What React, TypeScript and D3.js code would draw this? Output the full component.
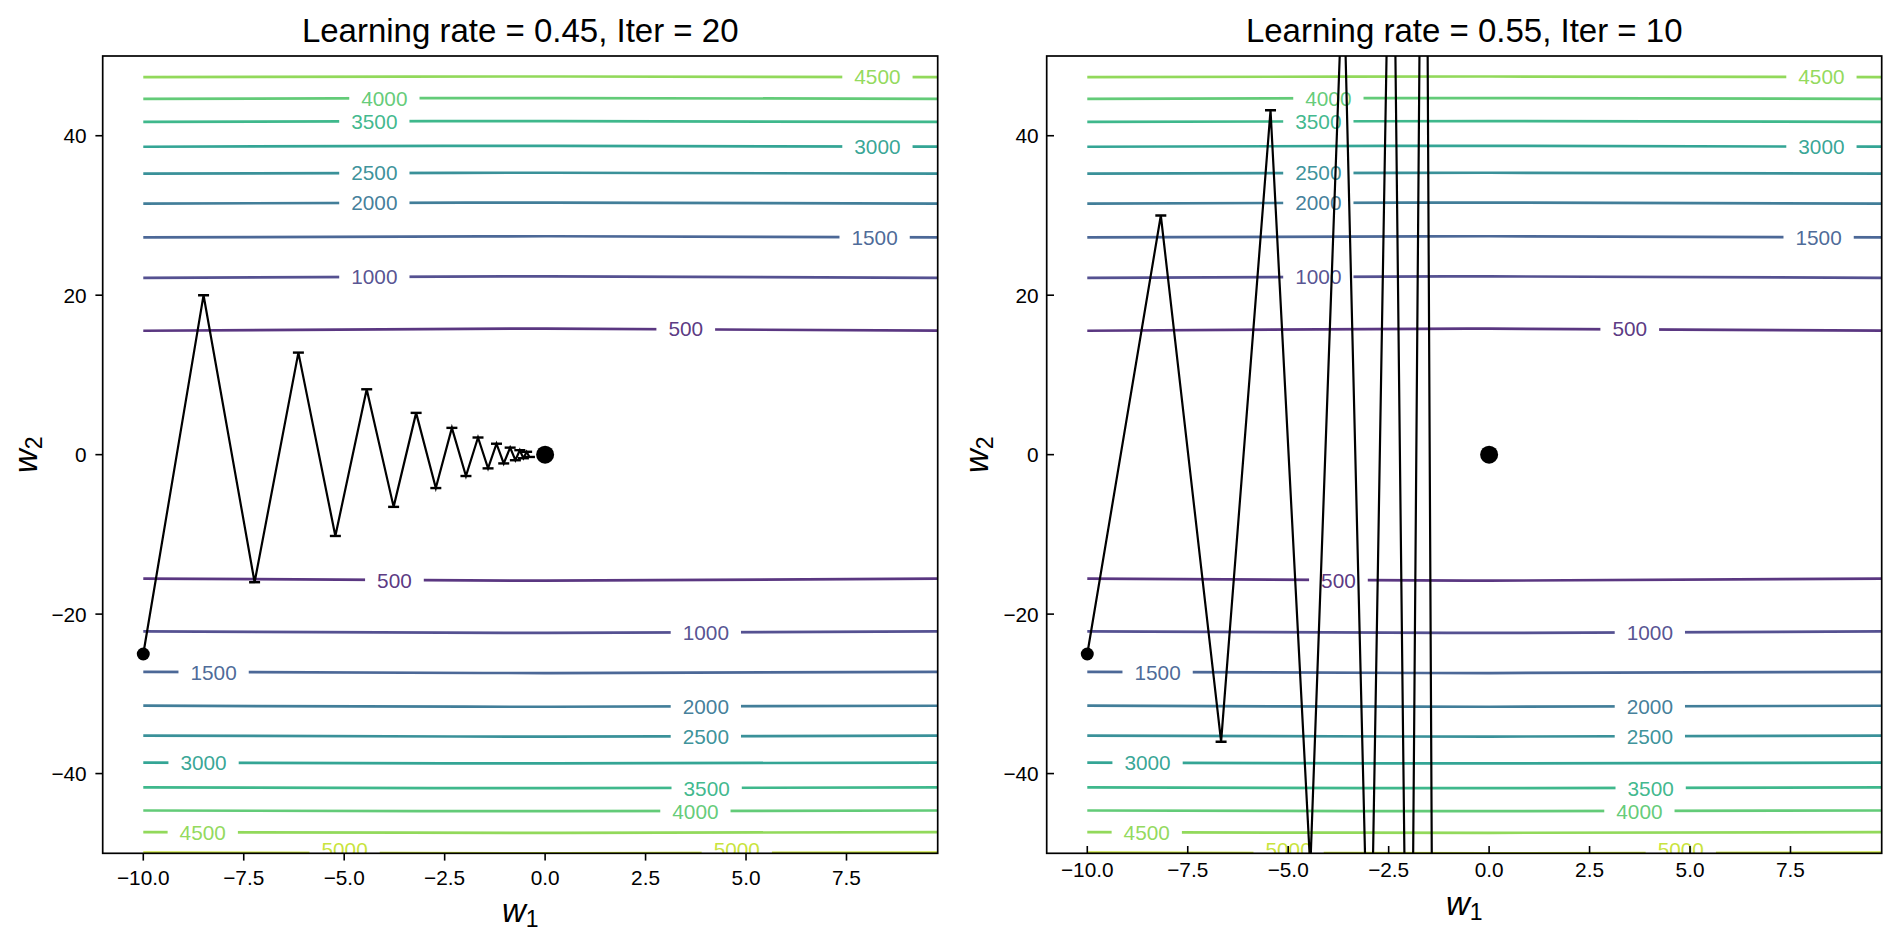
import React, { useEffect, useRef } from "react";
import * as d3 from "d3";

// ---- data ----
const panelTitles = ["Learning rate = 0.45, Iter = 20", "Learning rate = 0.55, Iter = 10"];

// gradient descent iterates (w1, w2)
const stepsLr045W1 = [-10, -8.5, -7.23, -6.14, -5.22, -4.44, -3.77, -3.21, -2.72, -2.32, -1.97, -1.67, -1.42, -1.21, -1.03, -0.87, -0.74, -0.63, -0.54, -0.46, -0.39];
const stepsLr045W2 = [-25, 20, -16, 12.8, -10.2, 8.2, -6.55, 5.24, -4.19, 3.36, -2.68, 2.15, -1.72, 1.37, -1.1, 0.88, -0.7, 0.56, -0.45, 0.36, -0.29];
const stepsLr055W1 = [-10, -8.17, -6.67, -5.44, -4.45, -3.63, -2.97, -2.42, -1.98, -1.61, -1.32];
const stepsLr055W2 = [-25, 30, -36, 43.2, -51.8, 62.2, -74.6, 89.6, -107.5, 129, -154.8];

const optimum: [number, number] = [0, 0];

// contour lines: |w2| of each level at w1 = -10, 0, 10
const contourLevels = [500, 1000, 1500, 2000, 2500, 3000, 3500, 4000, 4500, 5000];
const contourW1 = [-10, 0, 10];
const contourW2Edge = [15.54, 22.17, 27.24, 31.49, 35.24, 38.62, 41.73, 44.63, 47.35, 49.92];
const contourW2Zero = [15.81, 22.36, 27.39, 31.62, 35.36, 38.73, 41.83, 44.72, 47.43, 50.0];
const upperLevels = [500, 1000, 1500, 2000, 2500, 3000, 3500, 4000, 4500];
const lowerLevels = [500, 1000, 1500, 2000, 2500, 3000, 3500, 4000, 4500, 5000];

// inline contour labels: [level, w1]
const upperLabels = [[500, 3.5], [1000, -4.25], [1500, 8.2], [2000, -4.25], [2500, -4.25], [3000, 8.27], [3500, -4.25], [4000, -4.0], [4500, 8.27]];
const lowerLabels = [[500, -3.75], [1000, 4.0], [1500, -8.25], [2000, 4.0], [2500, 4.0], [3000, -8.5], [3500, 4.02], [4000, 3.74], [4500, -8.52], [5000, -4.99], [5000, 4.77]];

const xTicks = [-10, -7.5, -5, -2.5, 0, 2.5, 5, 7.5];
const yTicks = [-40, -20, 0, 20, 40];
const w1Domain = [-11.01, 9.77];
const w2Domain = [-50, 50];

// ---- layout ----
const W = 1894, H = 934;
const FONT = "'Liberation Sans', Arial, Helvetica, sans-serif";
const panelLeft = [102.7, 1046.7];
const plotW = 835, plotTop = 56, plotBottom = 853.3;
const tickLen = 7.3;

function drawPanel(svg: any, idx: number, w1s: number[], w2s: number[]) {
    const left = panelLeft[idx];
    const inward = idx === 1;
    const x = d3.scaleLinear().domain(w1Domain).range([left, left + plotW]);
    const y = d3.scaleLinear().domain(w2Domain).range([plotBottom, plotTop]);
    const color = (lv: number) => d3.interpolateViridis(lv / 5500);

    const clipId = `clip-${idx}`;
    svg.append("clipPath").attr("id", clipId)
        .append("rect")
        .attr("x", left).attr("y", plotTop)
        .attr("width", plotW).attr("height", plotBottom - plotTop);

    const g = svg.append("g").attr("clip-path", `url(#${clipId})`);

    const contourLine = d3.line<number[]>()
        .x(d => x(d[0]))
        .y(d => y(d[1]))
        .curve(d3.curveNatural);

    // contour lines
    const drawSide = (levels: number[], sign: number) => {
        levels.forEach(lv => {
            const i = contourLevels.indexOf(lv);
            const vals = [contourW2Edge[i], contourW2Zero[i], contourW2Edge[i]];
            const pts = contourW1.map((w, j) => [w, sign * vals[j]]);
            g.append("path")
                .attr("d", contourLine(pts))
                .attr("fill", "none")
                .attr("stroke", color(lv))
                .attr("stroke-opacity", 0.9)
                .attr("stroke-width", 2.7);
        });
    };
    drawSide(upperLevels, 1);
    drawSide(lowerLevels, -1);

    // inline labels (white gap behind the text)
    const drawLabels = (labels: number[][], sign: number) => {
        labels.forEach(([lv, w]) => {
            const i = contourLevels.indexOf(lv);
            const e = contourW2Edge[i], m = contourW2Zero[i];
            const w2 = sign * (m + (e - m) * (w / 10) * (w / 10));
            const cx = x(w), cy = Math.min(y(w2), plotBottom - 4);
            const bg = g.append("rect").attr("fill", "#fff");
            const t = g.append("text")
                .attr("x", cx).attr("y", cy)
                .attr("dy", "0.36em")
                .attr("text-anchor", "middle")
                .attr("font-family", FONT)
                .attr("font-size", 20.8)
                .attr("fill", color(lv))
                .attr("fill-opacity", 0.9)
                .text(String(lv));
            const tw = (t.node() as SVGTextElement).getComputedTextLength();
            bg.attr("x", cx - tw / 2 - 12).attr("y", cy - 6)
                .attr("width", tw + 24).attr("height", 12);
        });
    };
    drawLabels(upperLabels, 1);
    drawLabels(lowerLabels, -1);

    // trajectory
    const pts = w1s.map((w, i) => [w, w2s[i]]);
    g.append("path")
        .attr("d", d3.line<number[]>().x(d => x(d[0])).y(d => y(d[1]))(pts))
        .attr("fill", "none")
        .attr("stroke", "#000")
        .attr("stroke-width", 2.2)
        .attr("stroke-linejoin", "miter");

    g.selectAll(".cap")
        .data(pts)
        .join("line")
        .attr("class", "cap")
        .attr("x1", (d: number[]) => x(d[0]) - 5.5)
        .attr("x2", (d: number[]) => x(d[0]) + 5.5)
        .attr("y1", (d: number[]) => y(d[1]))
        .attr("y2", (d: number[]) => y(d[1]))
        .attr("stroke", "#000")
        .attr("stroke-width", 2.4);

    g.append("circle").attr("cx", x(pts[0][0])).attr("cy", y(pts[0][1])).attr("r", 6.5).attr("fill", "#000");
    g.append("circle").attr("cx", x(optimum[0])).attr("cy", y(optimum[1])).attr("r", 9).attr("fill", "#000");

    // frame
    svg.append("rect")
        .attr("x", left).attr("y", plotTop)
        .attr("width", plotW).attr("height", plotBottom - plotTop)
        .attr("fill", "none").attr("stroke", "#000").attr("stroke-width", 1.7);

    const fmtX = d3.format(".1f");
    const ax = svg.append("g").attr("font-family", FONT).attr("font-size", 20.8).attr("fill", "#000");
    const xLabY = inward ? plotBottom + 24 : plotBottom + 31.7;
    xTicks.forEach(t => {
        ax.append("line")
            .attr("x1", x(t)).attr("x2", x(t))
            .attr("y1", plotBottom).attr("y2", inward ? plotBottom - tickLen : plotBottom + tickLen)
            .attr("stroke", "#000").attr("stroke-width", 1.6);
        ax.append("text")
            .attr("x", x(t)).attr("y", xLabY)
            .attr("text-anchor", "middle")
            .text(fmtX(t));
    });
    const yLabX = inward ? left - 8 : left - 16;
    yTicks.forEach(t => {
        ax.append("line")
            .attr("x1", left).attr("x2", inward ? left + tickLen : left - tickLen)
            .attr("y1", y(t)).attr("y2", y(t))
            .attr("stroke", "#000").attr("stroke-width", 1.6);
        ax.append("text")
            .attr("x", yLabX).attr("y", y(t))
            .attr("dy", "0.36em")
            .attr("text-anchor", "end")
            .text(d3.format("d")(t));
    });

    // title
    svg.append("text")
        .attr("x", left + plotW / 2).attr("y", 42.3)
        .attr("text-anchor", "middle")
        .attr("font-family", FONT).attr("font-size", 33)
        .text(panelTitles[idx]);

    // axis labels w1 / w2
    const xl = svg.append("text")
        .attr("x", left + plotW / 2).attr("y", inward ? 915 : 921.7)
        .attr("text-anchor", "middle")
        .attr("font-family", FONT).attr("font-size", 33);
    xl.append("tspan").attr("font-style", "italic").text("w");
    xl.append("tspan").attr("font-size", 23).attr("dy", 5).text("1");

    const ylx = inward ? left - 59 : left - 66;
    const yl = svg.append("text")
        .attr("transform", `translate(${ylx},${(plotTop + plotBottom) / 2}) rotate(-90)`)
        .attr("text-anchor", "middle")
        .attr("font-family", FONT).attr("font-size", 33);
    yl.append("tspan").attr("font-style", "italic").text("w");
    yl.append("tspan").attr("font-size", 23).attr("dy", 5).text("2");
}

export default function App() {
    const svgRef = useRef<SVGSVGElement>(null);

    useEffect(() => {
        const svg = d3.select(svgRef.current);
        svg.selectAll("*").remove();
        drawPanel(svg, 0, stepsLr045W1, stepsLr045W2);
        drawPanel(svg, 1, stepsLr055W1, stepsLr055W2);
    }, []);

    return (
        <svg
            ref={svgRef}
            width={W}
            height={H}
            style={{ position: "absolute", left: 0, top: 0, background: "#fff", display: "block" }}
        />
    );
}
